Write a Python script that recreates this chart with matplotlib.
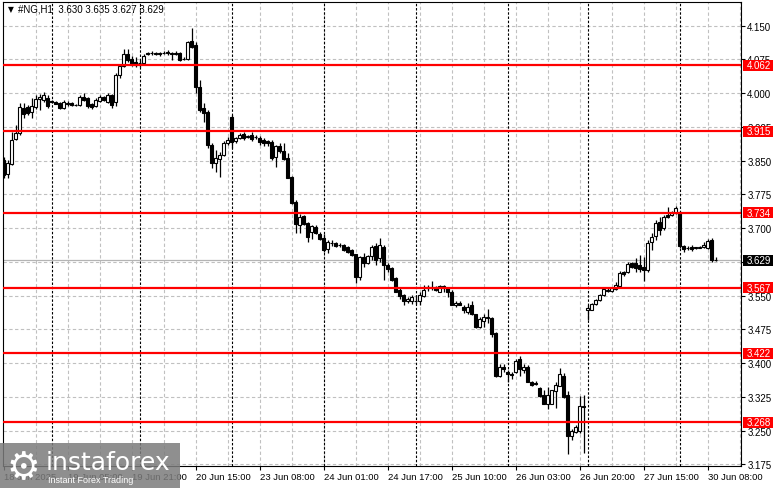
import numpy as np
import matplotlib
matplotlib.use('Agg')
import matplotlib.pyplot as plt
import matplotlib.transforms as mtransforms
from matplotlib.patches import Rectangle

# #NG H1 candles (price units)
opens = [3.852, 3.821, 3.843, 3.898, 3.912, 3.967, 3.969, 3.958, 3.969, 3.987,
         3.985, 3.989, 3.983, 3.980, 3.978, 3.967, 3.978, 3.978, 3.974, 3.974,
         3.991, 3.989, 3.976, 3.972, 3.983, 3.991, 3.980, 3.996, 3.980, 4.040,
         4.060, 4.087, 4.076, 4.069, 4.067, 4.067, 4.089, 4.089, 4.089, 4.089,
         4.089, 4.091, 4.089, 4.089, 4.089, 4.076, 4.076, 4.116, 4.107, 4.014,
         3.967, 3.958, 3.885, 3.845, 3.854, 3.863, 3.889, 3.947, 3.894, 3.900,
         3.909, 3.903, 3.907, 3.903, 3.900, 3.896, 3.894, 3.892, 3.858, 3.883,
         3.872, 3.856, 3.814, 3.759, 3.707, 3.727, 3.712, 3.692, 3.703, 3.688,
         3.679, 3.654, 3.668, 3.668, 3.663, 3.663, 3.659, 3.652, 3.643, 3.592,
         3.636, 3.623, 3.639, 3.661, 3.634, 3.659, 3.619, 3.612, 3.590, 3.563,
         3.552, 3.537, 3.539, 3.539, 3.539, 3.550, 3.568, 3.570, 3.570, 3.559,
         3.572, 3.568, 3.557, 3.530, 3.534, 3.525, 3.514, 3.528, 3.508, 3.481,
         3.494, 3.503, 3.501, 3.466, 3.371, 3.392, 3.381, 3.375, 3.381, 3.410,
         3.384, 3.392, 3.359, 3.355, 3.344, 3.328, 3.308, 3.308, 3.337, 3.350,
         3.371, 3.328, 3.237, 3.246, 3.248, 3.304, 3.519, 3.519, 3.532, 3.541,
         3.552, 3.563, 3.561, 3.565, 3.572, 3.603, 3.603, 3.623, 3.623, 3.619,
         3.614, 3.608, 3.670, 3.683, 3.714, 3.701, 3.730, 3.730, 3.734, 3.734,
         3.661, 3.656, 3.659, 3.657, 3.656, 3.659, 3.656, 3.674, 3.630]
highs = [3.858, 3.852, 3.914, 3.929, 3.978, 3.978, 3.974, 3.989, 3.996, 3.998,
         4.003, 3.996, 3.985, 3.983, 3.980, 3.985, 3.983, 3.980, 3.976, 3.996,
         4.000, 3.991, 3.978, 3.989, 3.996, 3.994, 4.000, 3.998, 4.045, 4.065,
         4.098, 4.098, 4.082, 4.080, 4.074, 4.087, 4.091, 4.093, 4.091, 4.091,
         4.093, 4.096, 4.091, 4.093, 4.091, 4.080, 4.116, 4.145, 4.114, 4.029,
         3.978, 3.963, 3.889, 3.874, 3.869, 3.894, 3.903, 3.952, 3.903, 3.912,
         3.914, 3.907, 3.914, 3.907, 3.905, 3.900, 3.896, 3.896, 3.885, 3.889,
         3.889, 3.867, 3.816, 3.763, 3.732, 3.730, 3.714, 3.707, 3.707, 3.692,
         3.688, 3.674, 3.674, 3.670, 3.668, 3.665, 3.661, 3.654, 3.643, 3.639,
         3.645, 3.641, 3.663, 3.668, 3.679, 3.663, 3.623, 3.614, 3.592, 3.568,
         3.554, 3.548, 3.552, 3.552, 3.557, 3.574, 3.574, 3.583, 3.572, 3.574,
         3.574, 3.570, 3.563, 3.539, 3.537, 3.528, 3.534, 3.537, 3.510, 3.503,
         3.508, 3.521, 3.503, 3.468, 3.397, 3.397, 3.384, 3.381, 3.410, 3.415,
         3.397, 3.395, 3.361, 3.361, 3.346, 3.341, 3.346, 3.341, 3.359, 3.389,
         3.377, 3.339, 3.253, 3.262, 3.326, 3.330, 3.530, 3.534, 3.543, 3.554,
         3.568, 3.570, 3.570, 3.581, 3.605, 3.605, 3.625, 3.625, 3.634, 3.641,
         3.636, 3.674, 3.690, 3.719, 3.725, 3.730, 3.747, 3.739, 3.750, 3.737,
         3.663, 3.661, 3.663, 3.659, 3.661, 3.670, 3.676, 3.679, 3.635]
lows = [3.812, 3.812, 3.841, 3.896, 3.907, 3.945, 3.952, 3.945, 3.965, 3.963,
        3.980, 3.967, 3.978, 3.976, 3.965, 3.965, 3.972, 3.972, 3.972, 3.972,
        3.983, 3.967, 3.965, 3.969, 3.980, 3.983, 3.978, 3.967, 3.972, 4.034,
        4.058, 4.069, 4.060, 4.058, 4.058, 4.065, 4.085, 4.085, 4.085, 4.082,
        4.087, 4.085, 4.074, 4.085, 4.071, 4.074, 4.074, 4.100, 4.000, 3.958,
        3.936, 3.878, 3.834, 3.825, 3.814, 3.861, 3.885, 3.878, 3.889, 3.898,
        3.896, 3.900, 3.894, 3.898, 3.885, 3.883, 3.883, 3.852, 3.836, 3.867,
        3.852, 3.812, 3.754, 3.690, 3.690, 3.707, 3.670, 3.676, 3.688, 3.674,
        3.648, 3.645, 3.661, 3.659, 3.659, 3.650, 3.645, 3.639, 3.579, 3.585,
        3.614, 3.621, 3.630, 3.619, 3.625, 3.585, 3.603, 3.583, 3.557, 3.543,
        3.530, 3.534, 3.532, 3.532, 3.530, 3.548, 3.561, 3.563, 3.561, 3.557,
        3.557, 3.548, 3.528, 3.525, 3.528, 3.512, 3.508, 3.506, 3.479, 3.477,
        3.481, 3.490, 3.459, 3.368, 3.368, 3.381, 3.359, 3.364, 3.377, 3.371,
        3.377, 3.357, 3.350, 3.352, 3.324, 3.308, 3.299, 3.308, 3.301, 3.348,
        3.322, 3.197, 3.230, 3.244, 3.244, 3.199, 3.495, 3.517, 3.530, 3.539,
        3.550, 3.559, 3.559, 3.563, 3.570, 3.594, 3.601, 3.612, 3.603, 3.603,
        3.583, 3.603, 3.652, 3.674, 3.685, 3.696, 3.723, 3.727, 3.732, 3.656,
        3.648, 3.652, 3.650, 3.654, 3.656, 3.656, 3.654, 3.625, 3.627]
closes = [3.818, 3.845, 3.896, 3.912, 3.969, 3.954, 3.956, 3.972, 3.987, 3.991,
          3.996, 3.972, 3.980, 3.976, 3.967, 3.980, 3.976, 3.974, 3.973, 3.991,
          3.985, 3.972, 3.969, 3.985, 3.991, 3.985, 3.996, 3.974, 4.040, 4.060,
          4.087, 4.074, 4.065, 4.062, 4.066, 4.082, 4.088, 4.089, 4.088, 4.087,
          4.090, 4.090, 4.088, 4.087, 4.074, 4.075, 4.114, 4.102, 4.014, 3.963,
          3.956, 3.885, 3.845, 3.856, 3.863, 3.889, 3.896, 3.892, 3.900, 3.907,
          3.900, 3.904, 3.898, 3.902, 3.892, 3.889, 3.889, 3.856, 3.883, 3.872,
          3.854, 3.812, 3.756, 3.710, 3.725, 3.710, 3.681, 3.705, 3.690, 3.676,
          3.652, 3.670, 3.667, 3.661, 3.662, 3.652, 3.648, 3.641, 3.592, 3.636,
          3.623, 3.639, 3.659, 3.630, 3.663, 3.619, 3.610, 3.585, 3.559, 3.550,
          3.537, 3.543, 3.548, 3.538, 3.552, 3.563, 3.570, 3.569, 3.563, 3.572,
          3.568, 3.557, 3.530, 3.534, 3.530, 3.517, 3.525, 3.508, 3.481, 3.497,
          3.503, 3.501, 3.464, 3.371, 3.392, 3.386, 3.375, 3.374, 3.404, 3.386,
          3.392, 3.359, 3.352, 3.354, 3.326, 3.308, 3.330, 3.341, 3.352, 3.375,
          3.324, 3.237, 3.248, 3.257, 3.304, 3.303, 3.523, 3.532, 3.541, 3.552,
          3.565, 3.561, 3.568, 3.574, 3.601, 3.599, 3.621, 3.614, 3.612, 3.610,
          3.608, 3.668, 3.681, 3.712, 3.696, 3.725, 3.725, 3.734, 3.745, 3.661,
          3.654, 3.655, 3.654, 3.656, 3.659, 3.663, 3.672, 3.630, 3.629]

levels = [4.062, 3.915, 3.734, 3.567, 3.422, 3.268]
last_price = 3.629
header = '#NG,H1  3.630 3.635 3.627 3.629'

y_ticks = [3.175, 3.250, 3.325, 3.400, 3.475, 3.550, 3.625, 3.700,
           3.775, 3.850, 3.925, 4.000, 4.075, 4.150]
x_tick_bars = [0, 16, 32, 48, 64, 80, 96, 112, 128, 144, 160, 176]
x_tick_labels = ['18 Jun 2025', '19 Jun 05:00', '19 Jun 21:00', '20 Jun 15:00',
                 '23 Jun 08:00', '24 Jun 01:00', '24 Jun 17:00', '25 Jun 10:00',
                 '26 Jun 03:00', '26 Jun 20:00', '27 Jun 15:00', '30 Jun 08:00']
day_sep_bars = [12, 34, 57, 80, 103, 126, 146, 169]

plt.rcParams['font.family'] = ['Liberation Sans', 'DejaVu Sans']

W, H = 781, 489
fig = plt.figure(figsize=(W / 100, H / 100), dpi=100)
fig.patch.set_facecolor('white')
ax = fig.add_axes([3 / W, (H - 466.5) / H, 738 / W, 463.5 / H])
ax.set_xlim(-0.2, 184.3)
ax.set_ylim(3.1723, 4.2027)

o = np.array(opens)
c = np.array(closes)
hi = np.array(highs)
lo = np.array(lows)
x = np.arange(len(o))

# grid
for t in y_ticks:
    ax.axhline(t, color='#c0c0c0', lw=0.8, ls=(0, (3, 2.2)), zorder=0)
for b in range(8, 185, 8):
    ax.axvline(b, color='#c0c0c0', lw=0.8, ls=(0, (3, 2.2)), zorder=0)
for b in day_sep_bars:
    ax.axvline(b, color='black', lw=0.8, ls=(0, (2.2, 1.6)), zorder=1)

ax.axhline(last_price, color='#b4b4b4', lw=0.9, zorder=1)

# candles
ax.vlines(x, lo, hi, color='black', lw=0.9, zorder=3)
body_lo = np.minimum(o, c)
body_h = np.maximum(np.abs(c - o), 0.0007)
face = ['white' if cc >= oo else 'black' for oo, cc in zip(o, c)]
ax.bar(x, body_h, bottom=body_lo, width=0.7, color=face, edgecolor='black',
       linewidth=0.8, zorder=4)

for lv in levels:
    ax.axhline(lv, color='#ff0000', lw=1.6, zorder=5)

# axes styling
for sp in ax.spines.values():
    sp.set_color('black')
    sp.set_linewidth(0.8)
ax.yaxis.tick_right()
ax.set_yticks(y_ticks)
# 3.625 sits fully under the current-price box, so its text is not shown
ax.set_yticklabels(['' if abs(t - last_price) < 0.01 else f'{t:.3f}' for t in y_ticks])
ax.tick_params(axis='y', length=3, width=0.8, pad=1.5, labelsize=7)
ax.set_xticks(x_tick_bars)
ax.set_xticklabels(x_tick_labels)
ax.tick_params(axis='x', length=3, width=0.8, pad=2, labelsize=6.8)
for lab in ax.get_xticklabels():
    lab.set_ha('left')

# price labels on the right scale
trans = mtransforms.blended_transform_factory(ax.transAxes, ax.transData)
box_h = 0.0245
for lv, col in [(v, '#ff0000') for v in levels] + [(last_price, 'black')]:
    ax.add_patch(Rectangle((1.0027, lv - box_h / 2), 0.0407, box_h, transform=trans,
                           facecolor=col, edgecolor='none', clip_on=False, zorder=6))
    ax.text(1.0077, lv, f'{lv:.3f}', transform=trans, color='white', fontsize=7,
            va='center', ha='left', clip_on=False, zorder=7)

# header
fig.text(8 / W, 1 - 10 / H, '\u25bc', fontsize=5.5, va='center', ha='left',
         family='DejaVu Sans')
fig.text(18 / W, 1 - 10 / H, header, fontsize=7, va='center', ha='left')

# watermark
fig.add_artist(Rectangle((0, 0), 180 / W, 45 / H, transform=fig.transFigure,
                         facecolor='#7c7c7c', edgecolor='none', alpha=0.85, zorder=10))
fig.text(23 / W, 20 / H, '\u2699', fontsize=27, color='white', va='center',
         ha='center', family='DejaVu Sans', zorder=11)
fig.text(46 / W, 26 / H, 'instaforex', fontsize=18, color='white', va='center',
         ha='left', family='DejaVu Sans', zorder=11)
fig.text(48 / W, 8 / H, 'Instant Forex Trading', fontsize=6.5, color='white',
         va='center', ha='left', zorder=11)

fig.savefig('out.png', dpi=100)
